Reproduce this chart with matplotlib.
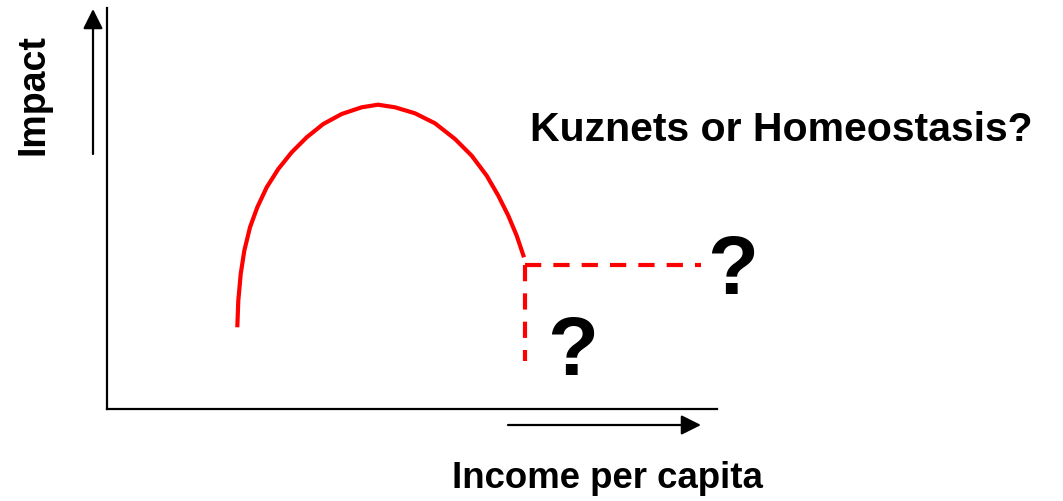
import matplotlib
matplotlib.use('Agg')
import matplotlib.pyplot as plt

plt.rcParams['font.family'] = ['Liberation Sans', 'DejaVu Sans']

# data (arbitrary units, origin at the axis corner)
income = [130.3, 131.3, 133.7, 137.3, 143, 150.3, 159.7, 171.3, 184.7, 199.7, 216.3, 234.7,
          254.7, 271, 288, 308, 328, 348, 364.7, 379.7, 391.3, 401.3, 409.7, 417]
impact = [81.7, 108.3, 135, 158.3, 181.7, 201.7, 221.7, 240, 256.7, 271.7, 285, 295,
          301.7, 304.3, 301.7, 295.7, 285.7, 270, 253.3, 233.3, 213.3, 193.3, 173.3, 151.7]

flat_income = [418, 594]
flat_impact = [144, 144]
drop_income = [418, 418]
drop_impact = [144, 48]

title = 'Kuznets or Homeostasis?'
xlabel = 'Income per capita'
ylabel = 'Impact'

fig = plt.figure(figsize=(10.63, 5.02), dpi=100)
ax = fig.add_axes([107 / 1063, 92 / 502, 610 / 1063, 401 / 502])
ax.set_xlim(0, 610)
ax.set_ylim(0, 401)
ax.set_xticks([])
ax.set_yticks([])
for s in ['top', 'right']:
    ax.spines[s].set_visible(False)
for s in ['left', 'bottom']:
    ax.spines[s].set_linewidth(1.6)

ax.plot(income, impact, color='#ff0000', lw=3.0, solid_joinstyle='round', solid_capstyle='butt')
l1, = ax.plot(flat_income, flat_impact, color='#ff0000', lw=3.0)
l2, = ax.plot(drop_income, drop_impact, color='#ff0000', lw=3.0)
l1.set_dashes((3.9, 2.9))
l2.set_dashes((3.9, 2.9))

arrow = dict(arrowstyle='-|>,head_length=0.8,head_width=0.4', color='black', lw=1.6,
             mutation_scale=15, shrinkA=0, shrinkB=0)
ax.annotate('', xy=(-14, 400), xytext=(-14, 255), arrowprops=arrow, annotation_clip=False)
ax.annotate('', xy=(594, -16), xytext=(401, -16), arrowprops=arrow, annotation_clip=False)

ax.text(674, 269, title, fontsize=29.5, fontweight='bold', ha='center', va='baseline', clip_on=False)
ax.text(626, 116, '?', fontsize=60, fontweight='bold', ha='center', va='baseline', clip_on=False)
ax.text(466, 35, '?', fontsize=60, fontweight='bold', ha='center', va='baseline', clip_on=False)
ax.text(500, -78, xlabel, fontsize=26.4, fontweight='bold', ha='center', va='baseline', clip_on=False)
ax.text(-64, 315, ylabel, fontsize=27, fontweight='bold', rotation=90, rotation_mode='anchor',
        ha='center', va='baseline', clip_on=False)

fig.savefig('out.png', dpi=100)
